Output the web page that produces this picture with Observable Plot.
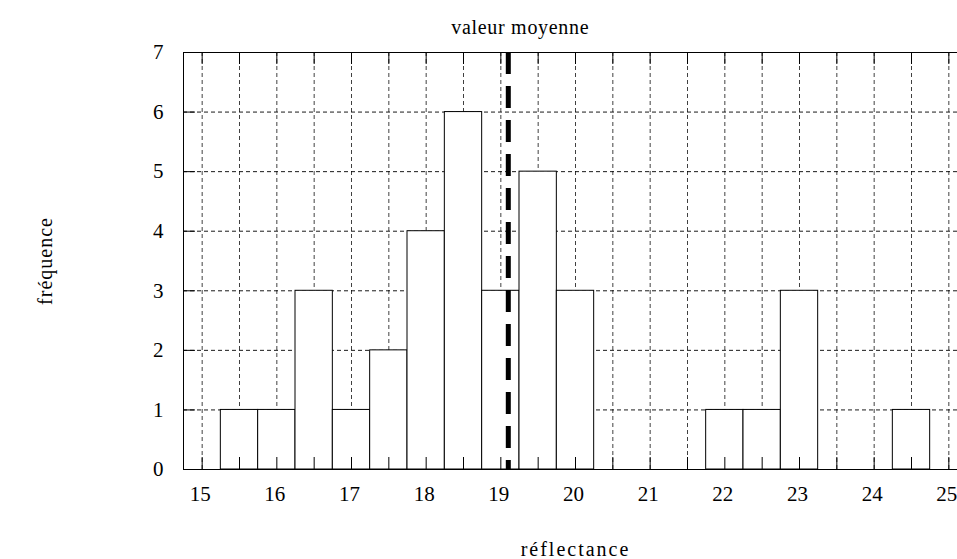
<!DOCTYPE html>
<html>
<head>
<meta charset="utf-8">
<script src="https://cdn.jsdelivr.net/npm/d3@7"></script>
<script src="https://cdn.jsdelivr.net/npm/@observablehq/plot@0.6"></script>
<style>
  html, body { margin: 0; padding: 0; background: #fff; }
  svg { display: block; }
</style>
</head>
<body>
<div id="chart"></div>
<script>
// ---- Data ----
const binCenters = [15.5, 16, 16.5, 17, 17.5, 18, 18.5, 19, 19.5, 20, 20.5, 21, 21.5, 22, 22.5, 23, 23.5, 24, 24.5];
const counts     = [1,    1,  3,    1,  2,    4,  6,    3,  5,    3,  0,    0,  0,    1,  1,    3,  0,    0,  1];
const binWidth = 0.5;
const meanValue = 19.1;
const xTickLabels = [15, 16, 17, 18, 19, 20, 21, 22, 23, 24, 25];
const xMinorTicks = [15, 15.5, 16, 16.5, 17, 17.5, 18, 18.5, 19, 19.5, 20, 20.5, 21, 21.5, 22, 22.5, 23, 23.5, 24, 24.5, 25];
const yTicks = [0, 1, 2, 3, 4, 5, 6, 7];
const titleText = "valeur moyenne";
const xLabel = "réflectance";
const yLabel = "fréquence";

// ---- Build table ----
const bins = binCenters.map((c, i) => ({x1: c - binWidth / 2, x2: c + binWidth / 2, count: counts[i]}))
  .filter(d => d.count > 0);

const W = 957, H = 559;
const mL = 183, mT = 52, mB = 90, mR = -10;
const plotH = H - mT - mB;
const plotW = W - mL - mR;
const tickLen = 12;
const font = "'Liberation Serif', 'Times New Roman', serif";

const chart = Plot.plot({
  width: W,
  height: H,
  marginLeft: mL,
  marginTop: mT,
  marginBottom: mB,
  marginRight: mR,
  style: {fontFamily: font, fontSize: "20px", color: "black", background: "white"},
  x: {domain: [14.75, 25.25], label: null},
  y: {domain: [0, 7], label: null},
  marks: [
    Plot.gridX(xMinorTicks, {stroke: "black", strokeOpacity: 0.75, strokeWidth: 1, strokeDasharray: "4,3"}),
    Plot.gridY(yTicks, {stroke: "black", strokeOpacity: 0.9, strokeWidth: 1, strokeDasharray: "4,3"}),
    Plot.rectY(bins, {x1: "x1", x2: "x2", y: "count", fill: "white", stroke: "black", strokeWidth: 1}),
    Plot.tickX(xMinorTicks, {x: d => d, insetTop: plotH - tickLen, stroke: "black", strokeWidth: 1}),
    Plot.tickX(xMinorTicks, {x: d => d, insetBottom: plotH - tickLen, stroke: "black", strokeWidth: 1}),
    Plot.tickY(yTicks, {y: d => d, insetRight: plotW - tickLen, stroke: "black", strokeWidth: 1}),
    Plot.ruleX([meanValue], {stroke: "black", strokeWidth: 5, strokeDasharray: "22,12"}),
    Plot.frame({anchor: "left", stroke: "black", strokeWidth: 1}),
    Plot.frame({anchor: "top", stroke: "black", strokeWidth: 1}),
    Plot.frame({anchor: "bottom", stroke: "black", strokeWidth: 1}),
    Plot.axisX(xTickLabels, {tickSize: 0, tickPadding: 17, fontSize: 21, dx: -2, tickFormat: d => String(d), fill: "black"}),
    Plot.axisY(yTicks, {tickSize: 0, tickPadding: 20, fontSize: 21, tickFormat: d => String(d), fill: "black"}),
    Plot.text([titleText], {x: () => meanValue, frameAnchor: "top", dy: -25, dx: 12, text: d => d, fontSize: 20, fill: "black", lineAnchor: "middle", textAnchor: "middle"}),
    Plot.text([xLabel], {frameAnchor: "bottom", dy: 80, text: d => d, fontSize: 20, fill: "black", lineAnchor: "middle", textAnchor: "middle"}),
    Plot.text([yLabel], {frameAnchor: "left", dx: -138, rotate: -90, text: d => d, fontSize: 20, fill: "black", lineAnchor: "middle", textAnchor: "middle"})
  ]
});
// letter spacing for the text labels (reference renders them slightly spaced)
chart.querySelectorAll("text").forEach(t => {
  if (t.textContent === titleText) t.setAttribute("letter-spacing", "0.7");
  if (t.textContent === xLabel) t.setAttribute("letter-spacing", "2");
  if (t.textContent === yLabel) t.setAttribute("letter-spacing", "1");
});
document.getElementById("chart").appendChild(chart);
</script>
</body>
</html>
